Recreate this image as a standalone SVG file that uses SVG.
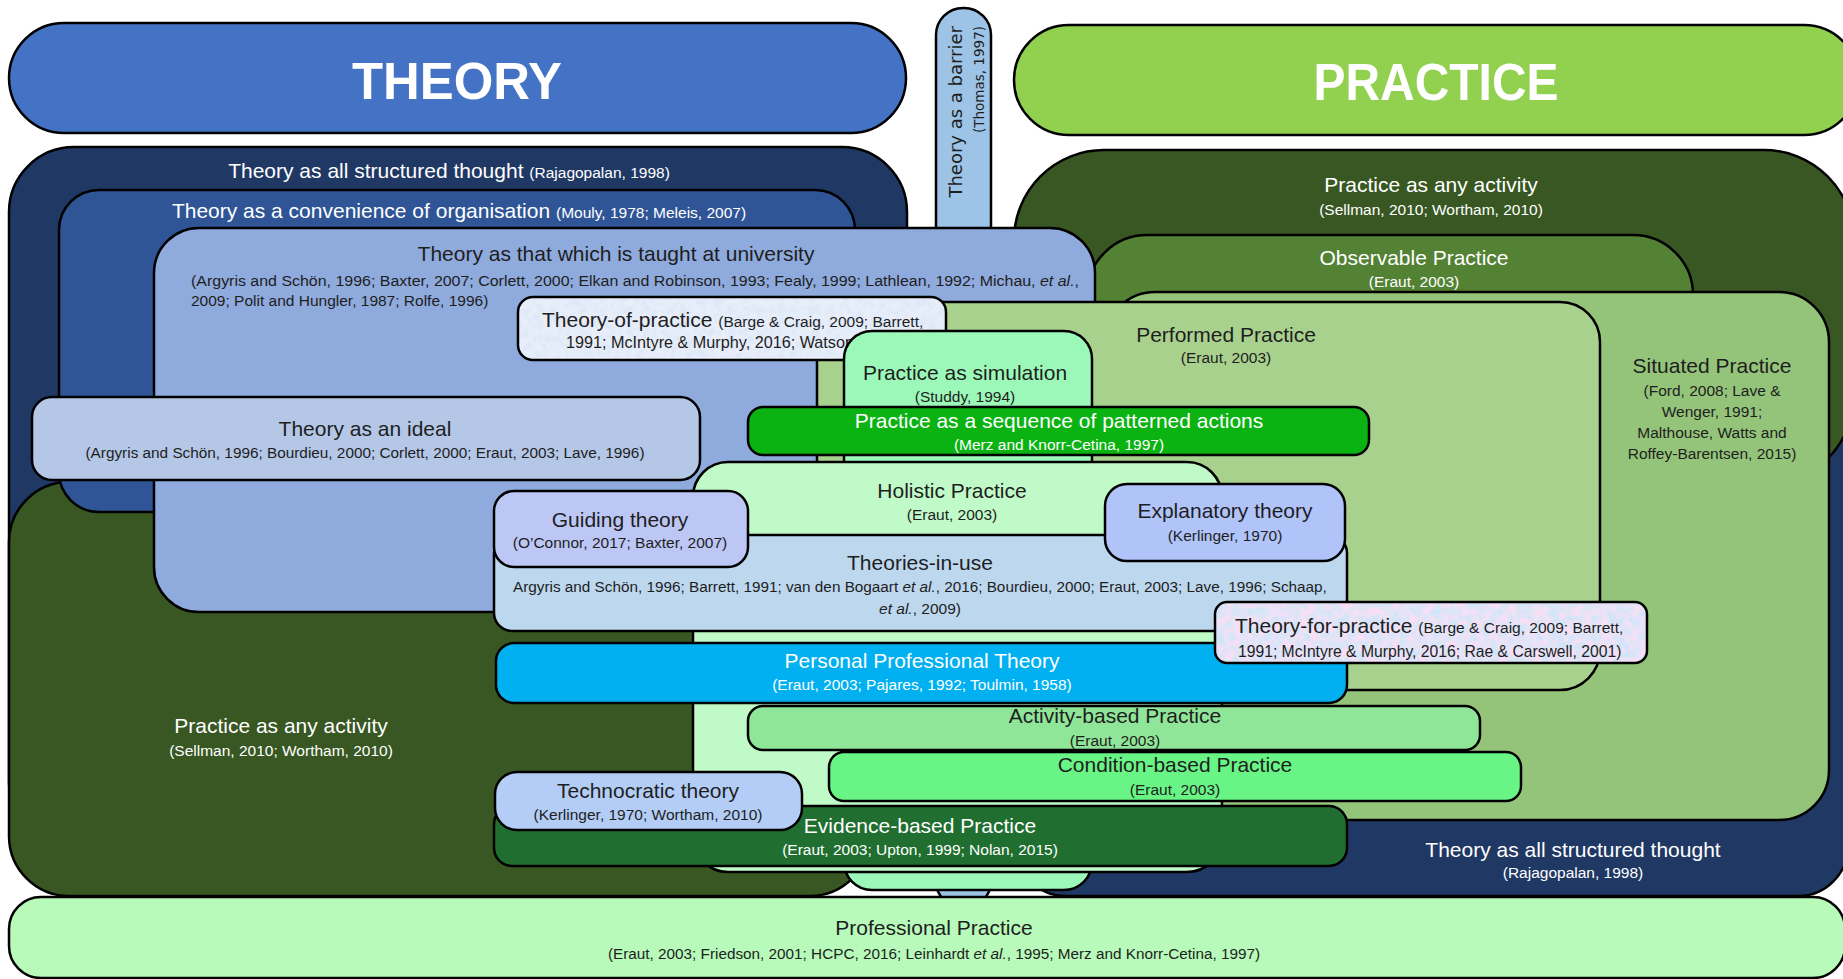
<svg xmlns="http://www.w3.org/2000/svg" width="1843" height="979" viewBox="0 0 1843 979">
<style>
.s{stroke:#000;stroke-width:2.5}
.t{font-family:"Liberation Sans",Arial,sans-serif;font-size:21px;fill:#1e1e1e;text-anchor:middle}
.c{font-size:15.5px}
.w{fill:#fff}
.l{text-anchor:start}
.i{font-style:italic}
.ttl{font-family:"Liberation Sans",Arial,sans-serif;font-weight:bold;font-size:51px;fill:#fff;text-anchor:middle}
.v{font-family:"DejaVu Sans",sans-serif;fill:#1e1e1e;text-anchor:end}
</style>
<defs>
<filter id="tex1" x="0" y="0" width="1" height="1">
<feTurbulence type="fractalNoise" baseFrequency="0.14" numOctaves="2" seed="4" result="n"/>
<feColorMatrix in="n" type="matrix" values="0 0 0 0 0.72 0 0 0 0 0.80 0 0 0 0 0.94 2.8 0 0 0 -1.1" result="sp"/>
<feComposite in="sp" in2="SourceGraphic" operator="atop"/>
</filter>
<filter id="tex2" x="0" y="0" width="1" height="1">
<feTurbulence type="fractalNoise" baseFrequency="0.12" numOctaves="2" seed="7" result="n1"/>
<feColorMatrix in="n1" type="matrix" values="0 0 0 0 0.64 0 0 0 0 0.78 0 0 0 0 0.95 3 0 0 0 -1.1" result="s1"/>
<feTurbulence type="fractalNoise" baseFrequency="0.12" numOctaves="2" seed="19" result="n2"/>
<feColorMatrix in="n2" type="matrix" values="0 0 0 0 0.94 0 0 0 0 0.74 0 0 0 0 0.92 3 0 0 0 -1.15" result="s2"/>
<feMerge result="m"><feMergeNode in="s1"/><feMergeNode in="s2"/></feMerge>
<feComposite in="m" in2="SourceGraphic" operator="atop"/>
</filter>
</defs>

<g id="barrier">
<rect class="s" x="936" y="8" width="55" height="900" rx="27" fill="#9DC3E6"/>
<text class="v" style="font-size:18px" transform="rotate(-90 962 26)" x="962" y="26">Theory as a barrier</text>
<text class="v" style="font-size:13.5px" transform="rotate(-90 984 26)" x="984" y="26">(Thomas, 1997)</text>
</g>

<g id="theory-title">
<rect class="s" x="9" y="23" width="897" height="110" rx="55" fill="#4472C4"/>
<text class="ttl" x="457" y="99" textLength="210" lengthAdjust="spacingAndGlyphs">THEORY</text>
</g>
<g id="practice-title">
<rect class="s" x="1014" y="25" width="845" height="110" rx="55" fill="#92D050"/>
<text class="ttl" x="1436" y="100" textLength="245" lengthAdjust="spacingAndGlyphs">PRACTICE</text>
</g>

<g id="structured-thought-a">
<rect class="s" x="9" y="147" width="898" height="700" rx="65" fill="#203864"/>
<text class="t w" x="449" y="178">Theory as all structured thought <tspan class="c">(Rajagopalan, 1998)</tspan></text>
</g>
<g id="structured-thought-b">
<rect class="s" x="1016" y="400" width="832" height="496" rx="50" fill="#203864"/>
<text class="t w" x="1573" y="857">Theory as all structured thought</text>
<text class="t c w" x="1573" y="878">(Rajagopalan, 1998)</text>
</g>
<g id="any-activity-right">
<rect class="s" x="1014" y="150" width="840" height="335" rx="90" fill="#385723"/>
<text class="t w" x="1431" y="192">Practice as any activity</text>
<text class="t c w" x="1431" y="215">(Sellman, 2010; Wortham, 2010)</text>
</g>
<g id="any-activity-left">
<rect class="s" x="9" y="482" width="861" height="414" rx="60" fill="#385723"/>
<text class="t w" x="281" y="733">Practice as any activity</text>
<text class="t c w" x="281" y="756">(Sellman, 2010; Wortham, 2010)</text>
</g>

<g id="convenience">
<rect class="s" x="59" y="190" width="796" height="322" rx="40" fill="#2F5597"/>
<text class="t w" x="459" y="218">Theory as a convenience of organisation <tspan class="c">(Mouly, 1978; Meleis, 2007)</tspan></text>
</g>
<g id="observable">
<rect class="s" x="1087" y="235" width="606" height="380" rx="60" fill="#548235"/>
<text class="t w" x="1414" y="265">Observable Practice</text>
<text class="t c w" x="1414" y="287">(Eraut, 2003)</text>
</g>
<g id="situated">
<rect class="s" x="1105" y="292" width="724" height="528" rx="50" fill="#94C47A"/>
<text class="t" x="1712" y="373">Situated Practice</text>
<text class="t c" x="1712" y="396">(Ford, 2008; Lave &amp;</text>
<text class="t c" x="1712" y="417">Wenger, 1991;</text>
<text class="t c" x="1712" y="438">Malthouse, Watts and</text>
<text class="t c" x="1712" y="459">Roffey-Barentsen, 2015)</text>
</g>
<g id="university">
<rect class="s" x="154" y="228" width="941" height="384" rx="45" fill="#8FAADC"/>
<text class="t" x="616" y="261">Theory as that which is taught at university</text>
<text class="t c l" x="191" y="286" textLength="888" lengthAdjust="spacingAndGlyphs">(Argyris and Schön, 1996; Baxter, 2007; Corlett, 2000; Elkan and Robinson, 1993; Fealy, 1999; Lathlean, 1992; Michau, <tspan class="i">et al.</tspan>,</text>
<text class="t c l" x="191" y="306">2009; Polit and Hungler, 1987; Rolfe, 1996)</text>
</g>
<g id="performed">
<rect class="s" x="817" y="302" width="783" height="388" rx="40" fill="#A9D18E"/>
<text class="t" x="1226" y="342">Performed Practice</text>
<text class="t c" x="1226" y="363">(Eraut, 2003)</text>
</g>
<g id="theory-of-practice">
<rect x="518" y="297" width="428" height="63" rx="15" fill="#E8EEF9" filter="url(#tex1)"/>
<rect class="s" x="518" y="297" width="428" height="63" rx="15" fill="none" stroke-width="2"/>
<text class="t l" x="542" y="327">Theory-of-practice <tspan class="c">(Barge &amp; Craig, 2009; Barrett,</tspan></text>
<text class="t l" style="font-size:16.2px" x="566" y="348">1991; McIntyre &amp; Murphy, 2016; Watson</text>
</g>
<g id="ideal">
<rect class="s" x="32" y="397" width="668" height="83" rx="20" fill="#B4C7E7"/>
<text class="t" x="365" y="436">Theory as an ideal</text>
<text class="t c" x="365" y="458" textLength="559" lengthAdjust="spacingAndGlyphs">(Argyris and Schön, 1996; Bourdieu, 2000; Corlett, 2000; Eraut, 2003; Lave, 1996)</text>
</g>
<g id="simulation">
<rect class="s" x="844" y="331" width="248" height="559" rx="28" fill="#9CF8B8"/>
<text class="t" x="965" y="380">Practice as simulation</text>
<text class="t c" x="965" y="402">(Studdy, 1994)</text>
</g>
<g id="patterned">
<rect class="s" x="748" y="407" width="621" height="48" rx="15" fill="#0AB312"/>
<text class="t w" x="1059" y="428">Practice as a sequence of patterned actions</text>
<text class="t c w" x="1059" y="450">(Merz and Knorr-Cetina, 1997)</text>
</g>
<g id="holistic">
<rect class="s" x="693" y="462" width="529" height="410" rx="35" fill="#C0FAC8"/>
<text class="t" x="952" y="498">Holistic Practice</text>
<text class="t c" x="952" y="520">(Eraut, 2003)</text>
</g>
<g id="theories-in-use">
<rect class="s" x="494" y="535" width="853" height="96" rx="18" fill="#BDD7EE"/>
<text class="t" x="920" y="570">Theories-in-use</text>
<text class="t l" style="font-size:15.3px" x="513" y="592">Argyris and Schön, 1996; Barrett, 1991; van den Bogaart <tspan class="i">et al.</tspan>, 2016; Bourdieu, 2000; Eraut, 2003; Lave, 1996; Schaap,</text>
<text class="t c" x="920" y="614"><tspan class="i">et al.</tspan>, 2009)</text>
</g>
<g id="guiding">
<rect class="s" x="494" y="491" width="254" height="76" rx="20" fill="#BDC7F5"/>
<text class="t" x="620" y="527">Guiding theory</text>
<text class="t c" x="620" y="548">(O’Connor, 2017; Baxter, 2007)</text>
</g>
<g id="explanatory">
<rect class="s" x="1105" y="484" width="240" height="77" rx="22" fill="#B0C4FA"/>
<text class="t" x="1225" y="518">Explanatory theory</text>
<text class="t c" x="1225" y="541">(Kerlinger, 1970)</text>
</g>
<g id="personal-professional">
<rect class="s" x="496" y="643" width="851" height="60" rx="18" fill="#00B0F0"/>
<text class="t w" x="922" y="668">Personal Professional Theory</text>
<text class="t c w" x="922" y="690">(Eraut, 2003; Pajares, 1992; Toulmin, 1958)</text>
</g>
<g id="theory-for-practice">
<rect x="1215" y="602" width="432" height="61" rx="12" fill="#DDE5F7" filter="url(#tex2)"/>
<rect class="s" x="1215" y="602" width="432" height="61" rx="12" fill="none" stroke-width="2"/>
<text class="t l" x="1235" y="633">Theory-for-practice <tspan class="c">(Barge &amp; Craig, 2009; Barrett,</tspan></text>
<text class="t l" style="font-size:15.7px" x="1238" y="657">1991; McIntyre &amp; Murphy, 2016; Rae &amp; Carswell, 2001)</text>
</g>
<g id="activity-based">
<rect class="s" x="748" y="706" width="732" height="44" rx="15" fill="#90E698"/>
<text class="t" x="1115" y="723">Activity-based Practice</text>
<text class="t c" x="1115" y="746">(Eraut, 2003)</text>
</g>
<g id="condition-based">
<rect class="s" x="829" y="752" width="692" height="49" rx="15" fill="#68F585"/>
<text class="t" x="1175" y="772">Condition-based Practice</text>
<text class="t c" x="1175" y="795">(Eraut, 2003)</text>
</g>
<g id="evidence-based">
<rect class="s" x="494" y="806" width="853" height="60" rx="18" fill="#206F30"/>
<text class="t w" x="920" y="833">Evidence-based Practice</text>
<text class="t c w" x="920" y="855">(Eraut, 2003; Upton, 1999; Nolan, 2015)</text>
</g>
<g id="technocratic">
<rect class="s" x="495" y="772" width="307" height="58" rx="22" fill="#B3CDF6"/>
<text class="t" x="648" y="798">Technocratic theory</text>
<text class="t c" x="648" y="820">(Kerlinger, 1970; Wortham, 2010)</text>
</g>
<g id="professional">
<rect class="s" x="9" y="897" width="1836" height="81" rx="32" fill="#B7FAB9"/>
<text class="t" x="934" y="935">Professional Practice</text>
<text class="t" style="font-size:15.3px" x="934" y="959">(Eraut, 2003; Friedson, 2001; HCPC, 2016; Leinhardt <tspan class="i">et al.</tspan>, 1995; Merz and Knorr-Cetina, 1997)</text>
</g>
<g id="connectors"/>
</svg>
